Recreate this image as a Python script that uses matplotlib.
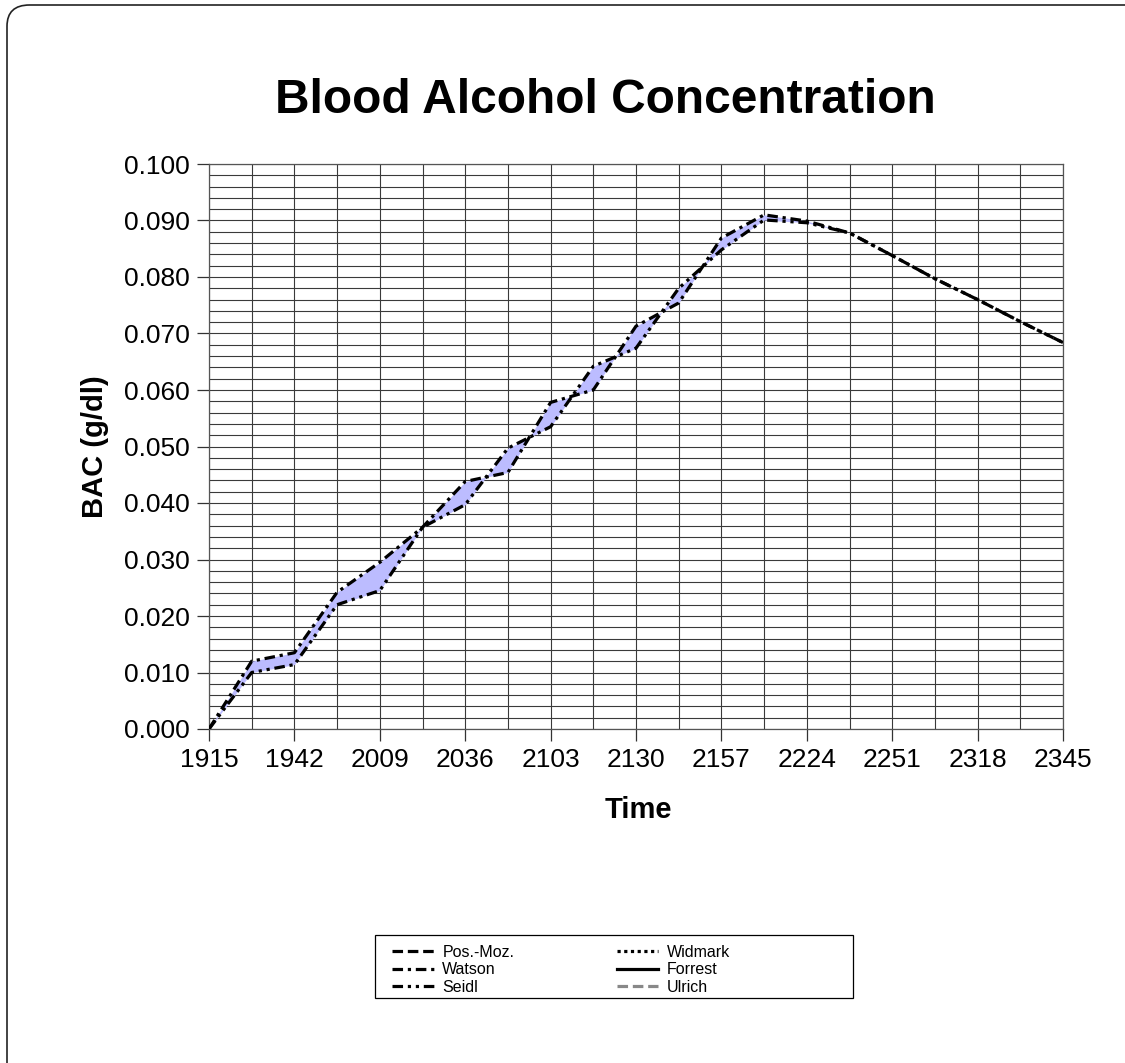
import matplotlib.pyplot as plt
from matplotlib.patches import FancyBboxPatch, Rectangle
from matplotlib.ticker import MultipleLocator, FormatStrFormatter

plt.rcParams['font.family'] = ['Liberation Sans', 'DejaVu Sans']

# time labels (every second category is labelled)
time_labels = ["1915", "1942", "2009", "2036", "2103", "2130",
               "2157", "2224", "2251", "2318", "2345"]
n_points = 21

# BAC readings (g/dl) at each category
watson = [0.0, 0.0120, 0.0135, 0.0242, 0.0295, 0.0357, 0.0438, 0.0454,
          0.0578, 0.0600, 0.0713, 0.0754, 0.0869, 0.0910, 0.0899, 0.0878,
          0.0838, 0.0797, 0.0760, 0.0721, 0.0684]
seidl = [0.0, 0.0100, 0.0114, 0.0220, 0.0245, 0.0357, 0.0397, 0.0497,
         0.0535, 0.0642, 0.0674, 0.0780, 0.0848, 0.0901, 0.0896, 0.0878,
         0.0838, 0.0797, 0.0760, 0.0721, 0.0684]
# series listed in the legend but not drawn
pos_moz = []
widmark = []
forrest = []
ulrich = []

x = list(range(n_points))

fig = plt.figure(figsize=(11.25, 10.63), dpi=100)
ax = fig.add_axes([209 / 1125, 1 - 729 / 1063, 854 / 1125, 565 / 1063])

# chart border (cropped on right/bottom)
border = FancyBboxPatch((7 / 1125, -0.2), 1.2, 1 - 5 / 1063 + 0.2,
                        boxstyle="round,pad=0,rounding_size=0.02",
                        transform=fig.transFigure, fill=False,
                        edgecolor='#222222', linewidth=1.2, zorder=0)
fig.patches.append(border)

ax.fill_between(x, watson, seidl, color='#bcbcff', linewidth=0, zorder=2)

lw = 2.3
ax.plot(pos_moz, pos_moz, color='black', lw=lw, ls=(0, (3.3, 1.5)), label='Pos.-Moz.')
ax.plot(x, watson, color='black', lw=lw, ls=(0, (3.3, 1.5, 1, 1.5)), label='Watson', zorder=3)
ax.plot(x, seidl, color='black', lw=lw, ls=(0, (3.3, 1.5, 1, 1.5, 1, 1.5)), label='Seidl', zorder=3)
ax.plot(widmark, widmark, color='black', lw=lw, ls=(0, (1, 1.1)), label='Widmark')
ax.plot(forrest, forrest, color='black', lw=lw, ls='-', label='Forrest')
ax.plot(ulrich, ulrich, color='#888888', lw=lw, ls=(0, (3.3, 1.5)), label='Ulrich')

ax.set_xlim(0, n_points - 1)
ax.set_ylim(0, 0.1)

ax.set_xticks(range(0, n_points, 2))
ax.set_xticklabels(time_labels)
ax.xaxis.set_minor_locator(MultipleLocator(1))
ax.yaxis.set_major_locator(MultipleLocator(0.01))
ax.yaxis.set_minor_locator(MultipleLocator(0.002))
ax.yaxis.set_major_formatter(FormatStrFormatter('%.3f'))

ax.tick_params(axis='both', which='major', direction='out', length=8.5,
               width=0.9, color='#333333', labelsize=19)
ax.tick_params(axis='x', which='major', pad=5)
ax.tick_params(axis='y', which='major', pad=5)
ax.tick_params(which='minor', length=0)

ax.grid(True, which='both', color='#3a3a3a', linewidth=0.8)
ax.set_axisbelow(True)
for s in ax.spines.values():
    s.set_color('#555555')
    s.set_linewidth(0.9)

fig.text(605 / 1125, 1 - 113 / 1063, 'Blood Alcohol Concentration',
         ha='center', va='baseline', fontsize=34.5, fontweight='bold')
fig.text(638 / 1125, 1 - 810 / 1063, 'Time',
         ha='center', va='center', fontsize=21, fontweight='bold')
fig.text(95 / 1125, 1 - 447 / 1063, 'BAC (g/dl)', rotation=90,
         ha='center', va='center', fontsize=21, fontweight='bold')

# legend box drawn separately, entries placed inside it
fig.patches.append(Rectangle((375 / 1125, 1 - 998 / 1063), 478 / 1125, 63 / 1063,
                             transform=fig.transFigure, fill=False,
                             edgecolor='black', linewidth=0.9))
fig.legend(loc='upper left', ncol=2, bbox_to_anchor=(392 / 1125, 1 - 945 / 1063),
           fontsize=11.5, handlelength=2.6, handletextpad=0.55,
           labelspacing=0.15, borderpad=0, borderaxespad=0, columnspacing=6.4,
           frameon=False)

fig.savefig('out.png', dpi=100)
